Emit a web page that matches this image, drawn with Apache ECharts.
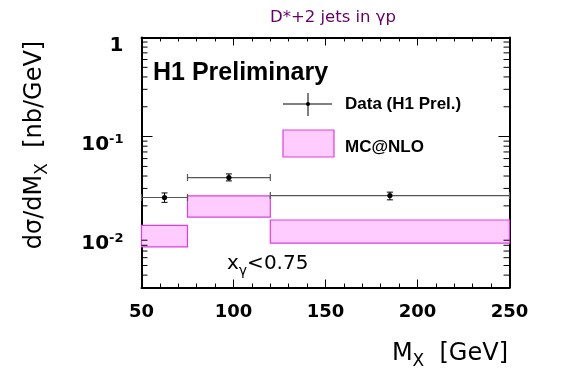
<!DOCTYPE html>
<html><head><meta charset="utf-8">
<script src="https://cdn.jsdelivr.net/npm/echarts@6/dist/echarts.min.js"></script>
<style>html,body{margin:0;padding:0;background:#fff}#c{width:567px;height:384px}</style>
</head><body><div id="c"></div>
<script>
// ---- data ----
const binLow = [50, 75, 120];
const binHigh = [75, 120, 250];
const dataX = [62.5, 97.5, 185];
const dataY = [0.0243, 0.0386, 0.0254];
const dataErrLow = [0.0217, 0.0357, 0.0230];
const dataErrHigh = [0.0270, 0.0420, 0.0275];
const mcLow = [0.0077, 0.0154, 0.0084];
const mcHigh = [0.0127, 0.0252, 0.0144];
// ---- ticks ----
const yMinorTicks = [0.004, 0.005, 0.006, 0.007, 0.008, 0.009,
                     0.02, 0.03, 0.04, 0.05, 0.06, 0.07, 0.08, 0.09,
                     0.2, 0.3, 0.4, 0.5, 0.6, 0.7, 0.8, 0.9];
const xMin = 50, xMax = 250, xStep = 50;
const yMin = 0.003, yMax = 1;

const FONT = '"DejaVu Sans", sans-serif';
const HFONT = '"Liberation Sans", Arial, sans-serif';
const PINK = '#ffccff', MAG = '#dd3fdd';

const chart = echarts.init(document.getElementById('c'));

function yLabel(v) {
  const e = Math.round(Math.log10(v));
  if (Math.abs(Math.log10(v) - e) > 1e-6) return '';
  if (e === 0) return '{m|1}';
  return '{m|10}{s|' + e + '}';
}
const gridRect = {left: 141.5, right: 57.5, top: 37.5, bottom: 96.5};
function xAxisDef(idx, pos, showLabel) {
  return {type: 'value', gridIndex: idx, min: xMin, max: xMax, interval: xStep, position: pos,
    axisLine: {show: true, onZero: false, lineStyle: {color: '#000', width: 2}},
    axisTick: {show: true, inside: true, length: 8, lineStyle: {color: '#000', width: 1}},
    minorTick: {show: true, splitNumber: 5, length: 4, lineStyle: {color: '#000', width: 1}},
    splitLine: {show: false},
    axisLabel: showLabel ? {show: true, margin: 16, color: '#000', fontFamily: FONT, fontWeight: 'bold', fontSize: 18} : {show: false}};
}
function yAxisDef(idx, pos, showLabel) {
  return {type: 'log', logBase: 10, gridIndex: idx, min: yMin, max: yMax, position: pos,
    axisLine: {show: true, onZero: false, lineStyle: {color: '#000', width: 2}},
    axisTick: {show: true, inside: true, length: 11, lineStyle: {color: '#000', width: 1}},
    splitLine: {show: false},
    axisLabel: showLabel ? {show: true, margin: 18, color: '#000', formatter: yLabel, padding: [16, 0, 0, 0],
      rich: {
        m: {fontFamily: FONT, fontWeight: 'bold', fontSize: 20, color: '#000'},
        s: {fontFamily: FONT, fontWeight: 'bold', fontSize: 13, color: '#000', padding: [0, 0, 10, 0]}
      }} : {show: false}};
}

const option = {
  animation: false,
  grid: [Object.assign({}, gridRect), Object.assign({}, gridRect)],
  xAxis: [xAxisDef(0, 'bottom', true), xAxisDef(1, 'top', false)],
  yAxis: [yAxisDef(0, 'left', true), yAxisDef(1, 'right', false)],
  series: [
    { // MC@NLO band
      type: 'custom', name: 'MC@NLO', xAxisIndex: 0, yAxisIndex: 0,
      encode: {x: [0, 1], y: [2, 3]},
      data: binLow.map((b, i) => [b, binHigh[i], mcLow[i], mcHigh[i]]),
      renderItem: function (params, api) {
        const p0 = api.coord([api.value(0), api.value(3)]);
        const p1 = api.coord([api.value(1), api.value(2)]);
        return {type: 'rect', shape: {x: p0[0], y: p0[1], width: p1[0] - p0[0], height: p1[1] - p0[1]},
          style: {fill: PINK, stroke: MAG, lineWidth: 1.2}};
      }
    },
    { // Data with error bars
      type: 'custom', name: 'Data', xAxisIndex: 0, yAxisIndex: 0,
      encode: {x: [0, 1, 2], y: [3, 4, 5]},
      data: dataX.map((x, i) => [x, binLow[i], binHigh[i], dataY[i], dataErrLow[i], dataErrHigh[i]]),
      renderItem: function (params, api) {
        const c = api.coord([api.value(0), api.value(3)]);
        const l = api.coord([api.value(1), api.value(3)]);
        const r = api.coord([api.value(2), api.value(3)]);
        const lo = api.coord([api.value(0), api.value(4)]);
        const hi = api.coord([api.value(0), api.value(5)]);
        const g = '#555', k = '#000';
        return {type: 'group', children: [
          {type: 'line', shape: {x1: l[0], y1: c[1], x2: r[0], y2: c[1]}, style: {stroke: g, lineWidth: 1.2}},
          {type: 'line', shape: {x1: l[0], y1: c[1] - 3.5, x2: l[0], y2: c[1] + 3.5}, style: {stroke: g, lineWidth: 1.2}},
          {type: 'line', shape: {x1: r[0], y1: c[1] - 3.5, x2: r[0], y2: c[1] + 3.5}, style: {stroke: g, lineWidth: 1.2}},
          {type: 'line', shape: {x1: c[0], y1: lo[1], x2: c[0], y2: hi[1]}, style: {stroke: k, lineWidth: 1}},
          {type: 'line', shape: {x1: c[0] - 3, y1: lo[1], x2: c[0] + 3, y2: lo[1]}, style: {stroke: k, lineWidth: 1}},
          {type: 'line', shape: {x1: c[0] - 3, y1: hi[1], x2: c[0] + 3, y2: hi[1]}, style: {stroke: k, lineWidth: 1}},
          {type: 'circle', shape: {cx: c[0], cy: c[1], r: 2.6}, style: {fill: k}}
        ]};
      }
    },
    { // log minor ticks (left and right frame), on the second grid
      type: 'custom', xAxisIndex: 1, yAxisIndex: 1, z: 20,
      data: yMinorTicks.map(v => [xMin, v]),
      renderItem: function (params, api) {
        const v = api.value(1);
        const pl = api.coord([xMin, v]);
        const pr = api.coord([xMax, v]);
        return {type: 'group', children: [
          {type: 'rect', shape: {x: pl[0], y: pl[1] - 0.5, width: 6, height: 1}, style: {fill: '#000'}},
          {type: 'rect', shape: {x: pr[0] - 6, y: pr[1] - 0.5, width: 6, height: 1}, style: {fill: '#000'}}
        ]};
      }
    }
  ],
  graphic: [
    {type: 'text', x: 333, y: 18, style: {text: 'D*+2 jets in γp', font: '16.5px ' + FONT, fill: '#660066', textAlign: 'center', textVerticalAlign: 'middle'}},
    {type: 'text', x: 153, y: 73, style: {text: 'H1 Preliminary', font: 'bold 25px ' + HFONT, fill: '#000', textAlign: 'left', textVerticalAlign: 'middle'}},
    {type: 'rect', shape: {x: 283, y: 103.5, width: 49, height: 1}, style: {fill: '#000'}},
    {type: 'rect', shape: {x: 307.5, y: 93, width: 1, height: 23}, style: {fill: '#000'}},
    {type: 'circle', shape: {cx: 308, cy: 104, r: 2}, style: {fill: '#000'}},
    {type: 'text', x: 345, y: 104, style: {text: 'Data (H1 Prel.)', font: 'bold 17px ' + HFONT, fill: '#000', textAlign: 'left', textVerticalAlign: 'middle'}},
    {type: 'rect', shape: {x: 283, y: 130, width: 51, height: 27}, style: {fill: PINK, stroke: MAG, lineWidth: 1.2}},
    {type: 'text', x: 345, y: 147, style: {text: 'MC@NLO', font: 'bold 17px ' + HFONT, fill: '#000', textAlign: 'left', textVerticalAlign: 'middle'}},
    {type: 'text', x: 227, y: 264, style: {text: 'x{s|γ}<0.75', font: '20px ' + FONT, fill: '#000', textAlign: 'left', textVerticalAlign: 'middle',
      rich: {s: {font: '14px ' + FONT, fill: '#000', padding: [14, 0, 0, 0]}}}},
    {type: 'text', x: 508, y: 354, style: {text: 'M{s|X}  [GeV]', font: '24px ' + FONT, fill: '#000', textAlign: 'right', textVerticalAlign: 'middle',
      rich: {s: {font: '17px ' + FONT, fill: '#000', padding: [15, 0, 0, 0]}}}},
    {type: 'text', x: 35, y: 145, rotation: Math.PI / 2, style: {text: 'dσ/dM{s|X}  [nb/GeV]', font: '24px ' + FONT, fill: '#000', textAlign: 'center', textVerticalAlign: 'middle',
      rich: {s: {font: '17px ' + FONT, fill: '#000', padding: [15, 0, 0, 0]}}}}
  ]
};
chart.setOption(option);
</script>
</body></html>
